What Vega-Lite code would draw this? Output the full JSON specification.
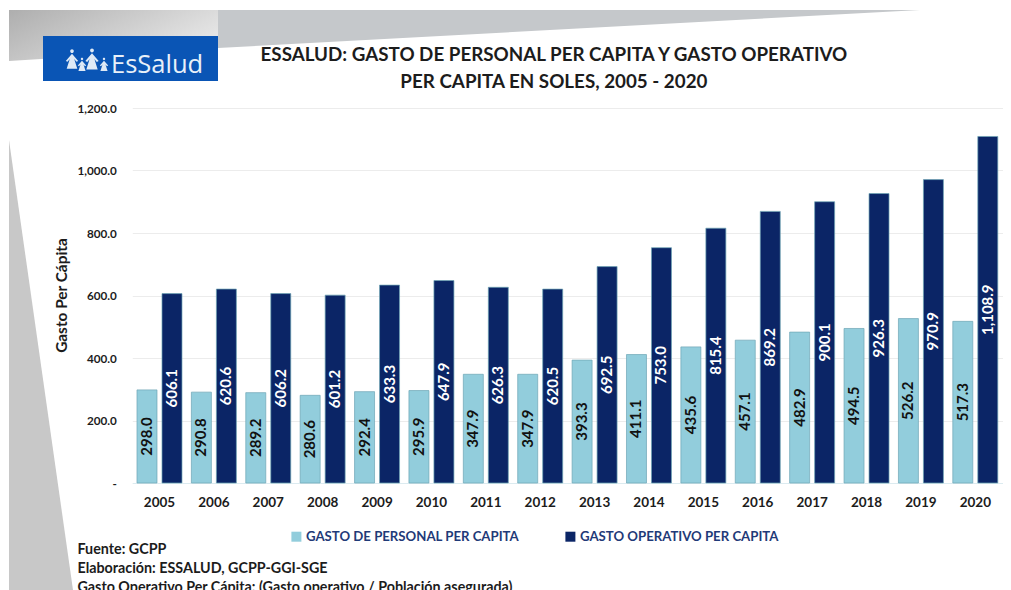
{
  "$schema": "https://vega.github.io/schema/vega-lite/v6.json",
  "width": 870.2,
  "height": 375,
  "autosize": "none",
  "padding": {"left": 132.3, "top": 108, "right": 8.5, "bottom": 107},
  "background": "#ffffff",
  "config": {"view": {"stroke": null}, "font": "Lato"},
  "title": {
    "text": ["ESSALUD: GASTO DE PERSONAL PER CAPITA Y GASTO OPERATIVO", "PER CAPITA EN SOLES, 2005 - 2020"],
    "anchor": "middle",
    "frame": "group",
    "dx": -13.5,
    "dy": 82,
    "offset": 0,
    "font": "Lato",
    "fontSize": 18.8,
    "fontWeight": "bold",
    "color": "#1c1c1c",
    "lineHeight": 27
  },
  "datasets": {
    "gasto": [
      {"anio": "2005", "serie": "GASTO DE PERSONAL PER CAPITA", "soles": 298.0},
      {"anio": "2005", "serie": "GASTO OPERATIVO PER CAPITA", "soles": 606.1},
      {"anio": "2006", "serie": "GASTO DE PERSONAL PER CAPITA", "soles": 290.8},
      {"anio": "2006", "serie": "GASTO OPERATIVO PER CAPITA", "soles": 620.6},
      {"anio": "2007", "serie": "GASTO DE PERSONAL PER CAPITA", "soles": 289.2},
      {"anio": "2007", "serie": "GASTO OPERATIVO PER CAPITA", "soles": 606.2},
      {"anio": "2008", "serie": "GASTO DE PERSONAL PER CAPITA", "soles": 280.6},
      {"anio": "2008", "serie": "GASTO OPERATIVO PER CAPITA", "soles": 601.2},
      {"anio": "2009", "serie": "GASTO DE PERSONAL PER CAPITA", "soles": 292.4},
      {"anio": "2009", "serie": "GASTO OPERATIVO PER CAPITA", "soles": 633.3},
      {"anio": "2010", "serie": "GASTO DE PERSONAL PER CAPITA", "soles": 295.9},
      {"anio": "2010", "serie": "GASTO OPERATIVO PER CAPITA", "soles": 647.9},
      {"anio": "2011", "serie": "GASTO DE PERSONAL PER CAPITA", "soles": 347.9},
      {"anio": "2011", "serie": "GASTO OPERATIVO PER CAPITA", "soles": 626.3},
      {"anio": "2012", "serie": "GASTO DE PERSONAL PER CAPITA", "soles": 347.9},
      {"anio": "2012", "serie": "GASTO OPERATIVO PER CAPITA", "soles": 620.5},
      {"anio": "2013", "serie": "GASTO DE PERSONAL PER CAPITA", "soles": 393.3},
      {"anio": "2013", "serie": "GASTO OPERATIVO PER CAPITA", "soles": 692.5},
      {"anio": "2014", "serie": "GASTO DE PERSONAL PER CAPITA", "soles": 411.1},
      {"anio": "2014", "serie": "GASTO OPERATIVO PER CAPITA", "soles": 753.0},
      {"anio": "2015", "serie": "GASTO DE PERSONAL PER CAPITA", "soles": 435.6},
      {"anio": "2015", "serie": "GASTO OPERATIVO PER CAPITA", "soles": 815.4},
      {"anio": "2016", "serie": "GASTO DE PERSONAL PER CAPITA", "soles": 457.1},
      {"anio": "2016", "serie": "GASTO OPERATIVO PER CAPITA", "soles": 869.2},
      {"anio": "2017", "serie": "GASTO DE PERSONAL PER CAPITA", "soles": 482.9},
      {"anio": "2017", "serie": "GASTO OPERATIVO PER CAPITA", "soles": 900.1},
      {"anio": "2018", "serie": "GASTO DE PERSONAL PER CAPITA", "soles": 494.5},
      {"anio": "2018", "serie": "GASTO OPERATIVO PER CAPITA", "soles": 926.3},
      {"anio": "2019", "serie": "GASTO DE PERSONAL PER CAPITA", "soles": 526.2},
      {"anio": "2019", "serie": "GASTO OPERATIVO PER CAPITA", "soles": 970.9},
      {"anio": "2020", "serie": "GASTO DE PERSONAL PER CAPITA", "soles": 517.3},
      {"anio": "2020", "serie": "GASTO OPERATIVO PER CAPITA", "soles": 1108.9}
    ]
  },
  "layer": [
    {
      "layer": [
        {
          "data": {"values": [
            {"u": 218, "v": 10, "v2": 48},
            {"u": 920, "v": 10, "v2": 10}
          ]},
          "mark": {"type": "area", "color": "#c5c8cb", "opacity": 1},
          "encoding": {
            "x": {"field": "u", "type": "quantitative", "axis": null, "scale": {"domain": [132.3, 1002.5], "zero": false, "nice": false}},
            "y": {"field": "v", "type": "quantitative", "axis": null, "scale": {"domain": [483, 108], "zero": false, "nice": false}},
            "y2": {"field": "v2"}
          }
        },
        {
          "data": {"values": [
            {"u": 9, "v": 10, "v2": 61},
            {"u": 218, "v": 10, "v2": 48}
          ]},
          "mark": {
            "type": "area",
            "color": {
              "gradient": "linear", "x1": 0, "y1": 0, "x2": 1, "y2": 0.5,
              "stops": [{"offset": 0, "color": "#aeaeae"}, {"offset": 1, "color": "#e6e6e6"}]
            }
          },
          "encoding": {
            "x": {"field": "u", "type": "quantitative", "axis": null},
            "y": {"field": "v", "type": "quantitative", "axis": null},
            "y2": {"field": "v2"}
          }
        },
        {
          "data": {"values": [
            {"u": 9, "v": 140, "v2": 590},
            {"u": 73, "v": 590, "v2": 590}
          ]},
          "mark": {"type": "area", "color": "#c8c8c8"},
          "encoding": {
            "x": {"field": "u", "type": "quantitative", "axis": null},
            "y": {"field": "v", "type": "quantitative", "axis": null},
            "y2": {"field": "v2"}
          }
        },
        {
          "data": {"values": [{"u": 43, "u2": 218, "v": 36, "v2": 81}]},
          "mark": {"type": "rect", "color": "#0a55b5"},
          "encoding": {
            "x": {"field": "u", "type": "quantitative", "axis": null},
            "x2": {"field": "u2"},
            "y": {"field": "v", "type": "quantitative", "axis": null},
            "y2": {"field": "v2"}
          }
        },
        {
          "data": {"values": [
            {"u": 72, "v": 60, "talla": 625},
            {"u": 92, "v": 60, "talla": 720},
            {"u": 82, "v": 65, "talla": 280},
            {"u": 104, "v": 65, "talla": 280}
          ]},
          "mark": {
            "type": "point",
            "filled": true,
            "opacity": 1,
            "color": "#dfeaf6",
            "shape": "M-0.2,-1 a0.2,0.2 0 1,1 0.4,0 a0.2,0.2 0 1,1 -0.4,0 Z M0,-0.7 L0.7,0.1 L0.5,0.2 L0.25,-0.1 L0.6,1 L-0.6,1 L-0.25,-0.1 L-0.5,0.2 L-0.7,0.1 Z"
          },
          "encoding": {
            "x": {"field": "u", "type": "quantitative", "axis": null},
            "y": {"field": "v", "type": "quantitative", "axis": null},
            "size": {"field": "talla", "type": "quantitative", "legend": null, "scale": {"type": "identity"}}
          }
        },
        {
          "data": {"values": [{"u": 111, "v": 65, "marca": "EsSalud"}]},
          "mark": {"type": "text", "align": "left", "baseline": "middle", "font": "Open Sans", "fontSize": 25.5, "color": "#e8f0f9"},
          "encoding": {
            "x": {"field": "u", "type": "quantitative", "axis": null},
            "y": {"field": "v", "type": "quantitative", "axis": null},
            "text": {"field": "marca"}
          }
        }
      ]
    },
    {
      "data": {"name": "gasto"},
      "mark": {"type": "bar", "stroke": "#6ea5b5", "strokeWidth": 1, "strokeOpacity": 0.7},
      "encoding": {
        "x": {
          "field": "anio",
          "type": "nominal",
          "scale": {"padding": 0},
          "axis": {
            "labelAngle": 0,
            "labelFont": "Lato",
            "labelFontSize": 13.5,
            "labelFontWeight": "bold",
            "labelColor": "#1c1c1c",
            "labelPadding": 12,
            "ticks": false,
            "domainColor": "#dcebf0",
            "domainWidth": 1,
            "title": [
              "Fuente: GCPP",
              "Elaboración: ESSALUD, GCPP-GGI-SGE",
              "Gasto Operativo Per Cápita: (Gasto operativo / Población asegurada)"
            ],
            "titleFont": "Lato",
            "titleFontSize": 14.3,
            "titleFontWeight": "bold",
            "titleColor": "#1c1c1c",
            "titleAlign": "left",
            "titleAnchor": "start",
            "titleBaseline": "alphabetic",
            "titleLineHeight": 19,
            "titleX": -55.3,
            "titleY": 70
          }
        },
        "xOffset": {
          "field": "serie",
          "type": "nominal",
          "scale": {"paddingInner": 0.2, "paddingOuter": 0.188}
        },
        "y": {
          "field": "soles",
          "type": "quantitative",
          "scale": {"domain": [0, 1200], "nice": false},
          "axis": {
            "values": [0, 200, 400, 600, 800, 1000, 1200],
            "labelExpr": "datum.value === 0 ? '-' : format(datum.value, ',.1f')",
            "labelFont": "Lato",
            "labelFontSize": 11.7,
            "labelFontWeight": "bold",
            "labelColor": "#1c1c1c",
            "labelPadding": 16,
            "ticks": false,
            "domain": false,
            "grid": true,
            "gridColor": "#ececec",
            "gridWidth": 1,
            "title": "Gasto Per Cápita",
            "titleFont": "Lato",
            "titleFontSize": 15.4,
            "titleFontWeight": "bold",
            "titleColor": "#1c1c1c",
            "titleX": -63,
            "titleY": 187
          }
        },
        "color": {
          "field": "serie",
          "type": "nominal",
          "scale": {
            "domain": ["GASTO DE PERSONAL PER CAPITA", "GASTO OPERATIVO PER CAPITA"],
            "range": ["#92cddc", "#0b2566"]
          },
          "legend": {
            "title": null,
            "orient": "none",
            "direction": "horizontal",
            "columns": 2,
            "legendX": 157.5,
            "legendY": 422,
            "symbolType": "square",
            "symbolSize": 100,
            "symbolStrokeWidth": 0,
            "labelFont": "Lato",
            "labelFontSize": 13.2,
            "labelFontWeight": "bold",
            "labelColor": "#1f3a78",
            "labelOffset": 3,
            "labelLimit": 320,
            "columnPadding": 44
          }
        }
      }
    },
    {
      "data": {"name": "gasto"},
      "mark": {"type": "text", "angle": 270, "align": "center", "baseline": "middle", "font": "Lato", "fontSize": 15, "fontWeight": "bold"},
      "encoding": {
        "x": {"field": "anio", "type": "nominal", "axis": null, "scale": {"padding": 0}},
        "xOffset": {
          "field": "serie",
          "type": "nominal",
          "scale": {"paddingInner": 0.2, "paddingOuter": 0.188}
        },
        "y": {"field": "soles", "type": "quantitative", "axis": null, "scale": {"domain": [0, 2400], "nice": false}},
        "text": {"field": "soles", "type": "quantitative", "format": ",.1f"},
        "color": {
          "field": "serie",
          "type": "nominal",
          "legend": null,
          "scale": {
            "domain": ["GASTO DE PERSONAL PER CAPITA", "GASTO OPERATIVO PER CAPITA"],
            "range": ["#111111", "#ffffff"]
          }
        }
      }
    }
  ],
  "resolve": {
    "scale": {"x": "independent", "y": "independent", "color": "independent", "size": "independent"}
  }
}
